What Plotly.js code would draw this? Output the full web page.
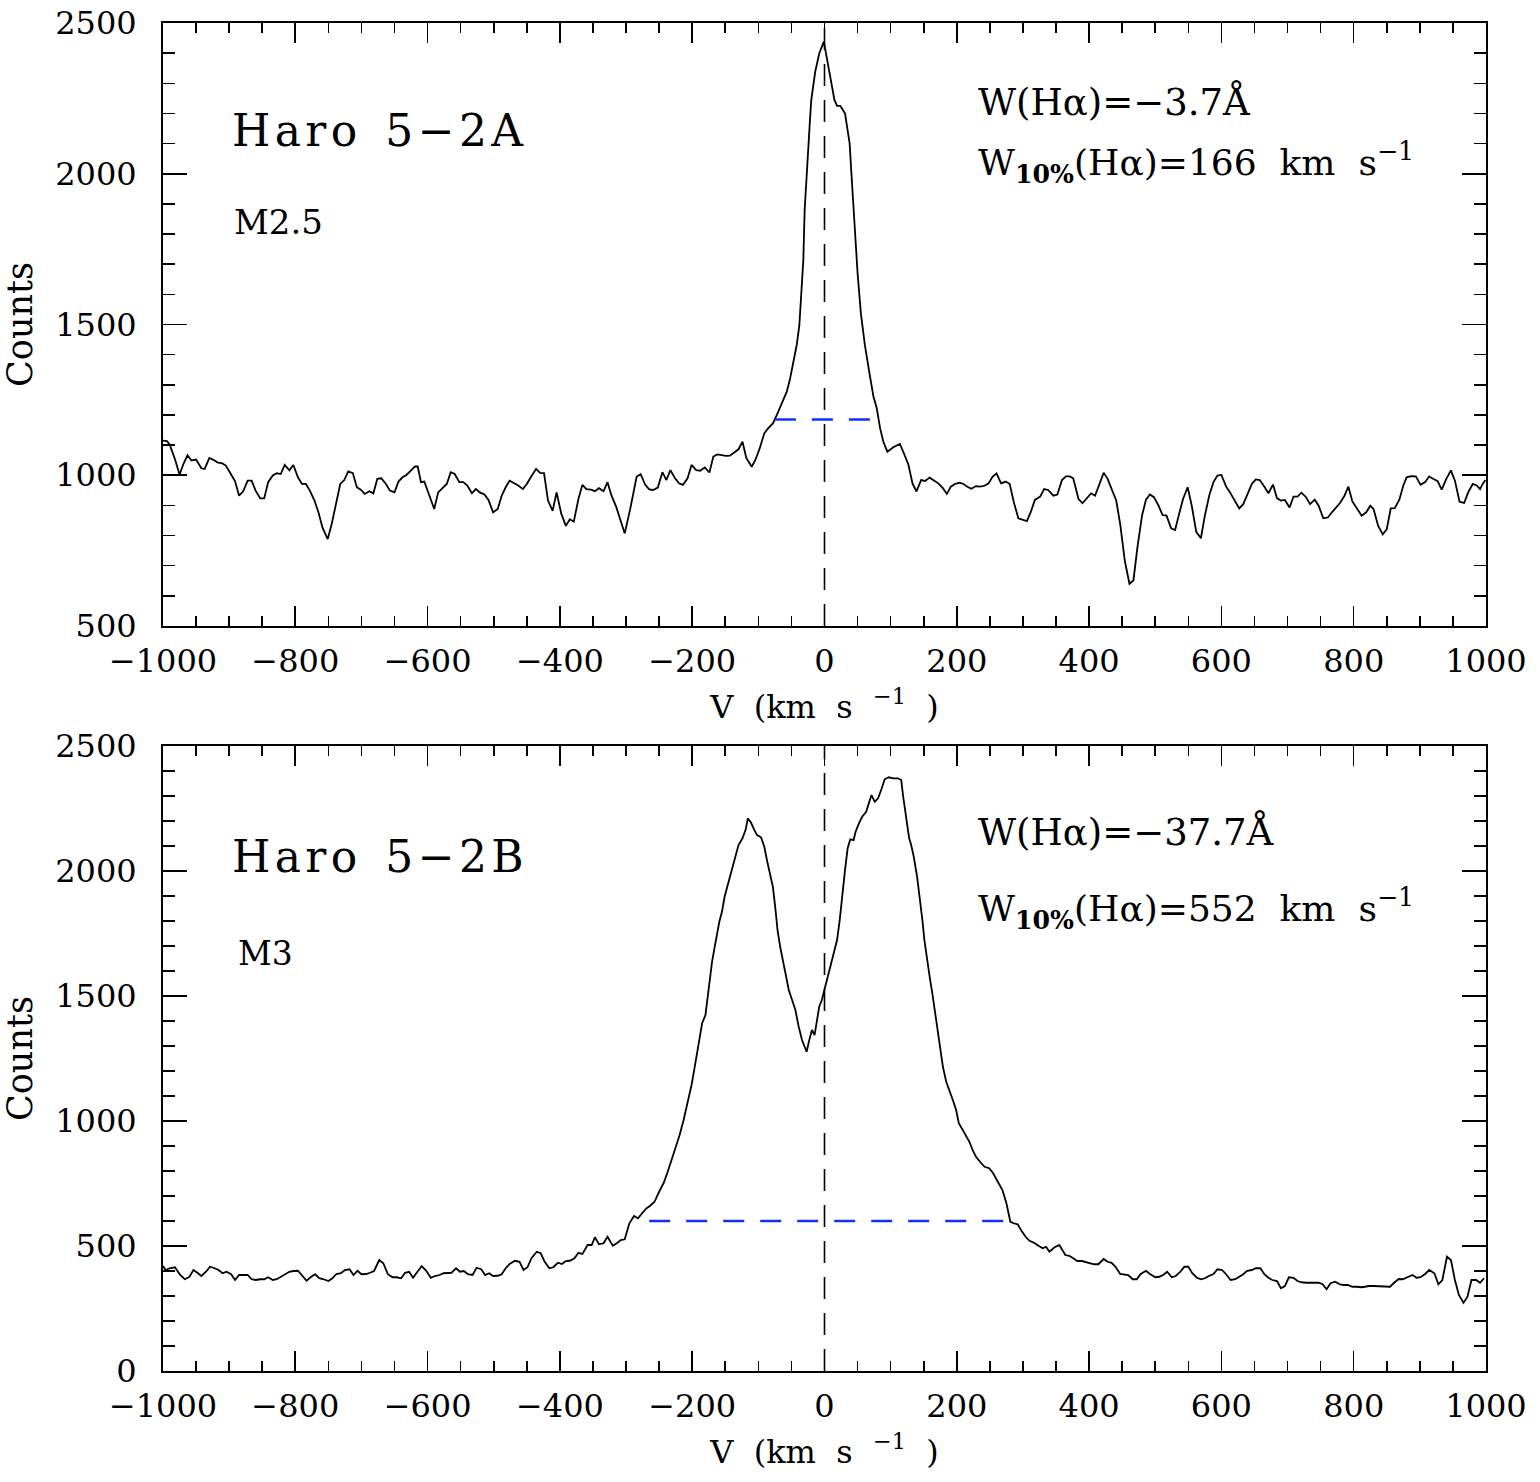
<!DOCTYPE html>
<html>
<head>
<meta charset="utf-8">
<script src="https://cdn.plot.ly/plotly-3.0.1.min.js"></script>
<style>html,body{margin:0;padding:0;background:#fff;}#chart{width:1540px;height:1482px;}</style>
</head>
<body>
<div id="chart"></div>
<script>
// ---------------- Top panel: Haro 5-2A ----------------
const topV = [
-1000,-994,-990,-982,-975,-969,-963,-957,-950,-942,
-937,-930,-924,-917,-911,-905,-899,-891,-885,-879,
-872,-866,-860,-853,-847,-841,-834,-828,-822,-816,
-809,-803,-796,-790,-784,-778,-771,-765,-759,-751,
-745,-739,-732,-726,-720,-713,-707,-701,-695,-688,
-682,-676,-670,-663,-657,-650,-644,-638,-632,-625,
-619,-615,-610,-605,-597,-590,-584,-577,-571,-565,
-559,-552,-546,-540,-533,-527,-521,-514,-508,-501,
-494,-488,-482,-476,-469,-463,-456,-450,-444,-436,
-430,-424,-418,-411,-405,-398,-391,-385,-379,-372,
-366,-360,-353,-347,-341,-334,-328,-322,-315,-309,
-302,-294,-284,-278,-271,-265,-259,-252,-245,-239,
-233,-226,-220,-214,-207,-201,-194,-188,-181,-174,
-168,-162,-156,-149,-143,-136,-130,-124,-118,-110,
-104,-98,-91,-85,-78,-72,-67,-62,-57,-52,
-47,-42,-38,-35,-32,-30,-26,-22,-20,-14,
-8,-1,5,11,15,19,24,31,38,41,
45,50,55,61,68,74,79,84,89,95,
104,114,121,127,133,139,146,152,159,167,
172,179,185,191,197,204,210,216,222,229,
235,242,248,254,260,267,274,280,286,293,
300,306,312,318,326,332,338,346,352,359,
365,371,376,384,390,396,403,409,415,422,
428,434,441,447,454,461,467,473,480,486,
492,498,505,511,517,524,530,536,542,549,
555,562,569,575,582,588,594,600,607,613,
620,627,633,640,646,652,658,665,671,678,
684,690,696,703,709,715,721,728,734,741,
747,754,761,767,773,779,786,792,798,805,
812,819,825,830,837,844,850,856,862,869,
875,880,887,894,901,908,914,920,927,933,
940,947,953,960,967,973,980,986,991,995,999
];
const topCounts = [
1115,1113,1102,1054,1002,1038,1066,1049,1052,1023,
1021,1057,1051,1042,1040,1032,1010,980,932,946,
982,982,949,923,923,977,999,1007,1004,1034,
1016,1034,993,971,971,949,916,877,827,788,
838,904,971,984,1013,1007,960,952,938,947,
940,988,990,971,949,943,979,993,1001,1016,
1029,1029,977,979,932,888,943,960,971,1010,
1004,977,977,966,940,954,943,936,918,877,
888,932,960,982,973,966,954,971,993,1021,
1008,1007,916,882,943,873,832,854,846,921,
968,954,952,947,957,947,977,932,896,854,
807,885,995,1004,968,953,951,959,1010,984,
1017,990,973,968,990,1034,1017,1015,1026,1009,
1062,1069,1067,1064,1065,1078,1086,1111,1056,1028,
1053,1089,1139,1156,1172,1200,1227,1255,1277,1321,
1377,1432,1498,1592,1714,1880,2046,2178,2245,2339,
2399,2438,2366,2289,2245,2225,2225,2200,2101,1990,
1847,1670,1537,1432,1338,1261,1222,1156,1111,1078,
1093,1104,1067,1034,973,946,984,981,992,979,
973,957,938,962,971,975,971,962,955,964,
962,965,973,995,1006,973,979,971,912,857,
852,848,879,918,929,954,951,932,936,984,
996,996,990,921,907,921,940,932,966,1008,
988,954,916,838,716,640,651,760,866,919,
936,927,899,868,866,824,818,871,921,960,
901,812,791,866,936,977,999,1001,963,943,
916,890,904,943,971,986,984,962,940,969,
924,916,918,893,929,929,942,927,904,919,
899,857,860,877,893,907,932,962,913,888,
866,877,899,888,832,804,821,890,891,919,
966,993,997,996,968,977,996,988,980,952,
988,1016,982,912,908,943,971,966,954,971,984
];
const topW10V = [-75, 73];       // 10% width marker (km/s)
const topW10Level = [1185, 1185]; // counts

// ---------------- Bottom panel: Haro 5-2B ----------------
const botV = [
-1000,-996,-990,-982,-974,-967,-960,-954,-948,-942,
-935,-929,-922,-916,-910,-904,-897,-891,-885,-879,
-872,-866,-860,-853,-847,-841,-834,-828,-822,-816,
-809,-803,-796,-789,-783,-776,-770,-764,-758,-750,
-744,-738,-731,-725,-718,-712,-706,-700,-693,-687,
-681,-673,-667,-660,-653,-647,-640,-634,-628,-622,
-615,-609,-603,-595,-589,-582,-576,-570,-564,-557,
-551,-545,-539,-532,-526,-519,-513,-507,-501,-494,
-488,-482,-476,-468,-461,-455,-449,-443,-435,-429,
-423,-416,-410,-403,-397,-391,-385,-378,-372,-366,
-358,-352,-347,-341,-334,-328,-320,-314,-308,-302,
-295,-288,-282,-275,-269,-264,-257,-250,-243,-237,
-231,-225,-219,-213,-207,-201,-197,-193,-189,-185,
-180,-176,-174,-170,-166,-162,-159,-155,-151,-147,
-142,-136,-130,-124,-119,-116,-111,-106,-102,-96,
-91,-86,-78,-74,-71,-67,-63,-58,-54,-49,
-44,-39,-34,-30,-27,-23,-19,-15,-12,-8,
-4,0,4,8,12,15,19,23,27,31,
35,39,44,47,52,57,63,67,71,76,
81,86,91,97,104,111,116,119,124,128,
131,135,140,144,148,151,155,159,163,166,
170,174,179,184,188,194,199,203,209,213,
219,224,229,237,242,249,255,262,269,275,
281,286,292,297,304,310,318,324,330,335,
340,348,355,364,370,376,382,389,395,402,
408,414,422,428,434,440,447,453,459,466,
472,478,486,492,500,506,512,518,525,531,
538,544,550,556,563,569,575,581,588,594,
601,607,614,621,627,633,639,646,652,659,
665,671,677,684,690,696,702,709,715,721,
728,734,740,747,753,759,765,772,778,784,
791,798,805,811,817,823,830,836,842,848,
855,861,868,874,880,889,895,901,908,914,
922,928,934,941,947,953,959,966,972,978,
985,991,997
];
const botCounts = [
420,404,411,415,384,367,377,404,393,380,
397,417,411,404,391,397,387,364,384,384,
384,367,364,367,367,375,364,367,377,388,
397,400,401,380,361,377,387,371,368,360,
371,388,391,404,407,384,401,387,388,393,
400,444,431,387,375,375,371,393,397,373,
397,420,404,373,380,384,391,391,393,411,
397,400,387,384,413,407,384,391,380,381,
387,411,428,441,437,404,415,451,477,471,
437,411,415,433,428,440,441,451,473,468,
504,504,535,507,511,537,501,511,524,527,
591,620,611,633,651,660,677,717,753,797,
844,891,944,1004,1071,1144,1204,1271,1337,1391,
1424,1511,1571,1637,1697,1764,1797,1837,1897,1937,
1984,2044,2104,2131,2167,2211,2193,2164,2144,2135,
2097,2031,1937,1844,1764,1697,1644,1571,1524,1484,
1444,1377,1324,1297,1277,1324,1364,1344,1391,1457,
1484,1524,1564,1604,1644,1684,1724,1804,1911,2004,
2091,2127,2124,2157,2191,2217,2237,2271,2304,2277,
2291,2327,2367,2375,2371,2371,2364,2297,2211,2131,
2104,2057,1977,1897,1804,1724,1644,1577,1511,1457,
1377,1297,1217,1157,1131,1084,1044,991,964,944,
917,884,857,831,817,811,791,757,724,671,
597,591,587,564,537,521,511,500,491,497,
477,495,504,464,461,451,440,440,437,431,
427,427,448,437,433,417,388,387,384,367,
367,388,401,388,375,377,384,397,375,380,
397,417,417,391,373,367,371,380,388,407,
404,387,364,367,377,387,401,404,411,411,
387,373,364,360,331,340,375,373,360,355,
353,353,351,353,347,327,351,357,348,344,
344,337,337,335,337,340,340,340,337,337,
337,353,368,367,373,384,373,375,388,404,
391,347,364,457,444,364,304,273,297,364,
364,353,371
];
const botW10V = [-265, 271];
const botW10Level = [600, 600];

// reference line at rest velocity
const restV = [0, 0];
const topRange = [500, 2500];
const botRange = [0, 2500];
const vRange = [-1000, 1000];

// texts (hair spaces U+200A mimic the wide letter spacing of the original)
const hs = '\u200a';
const spaced = s => s.split('').join(hs);
const topName = spaced('Haro') + '\u00a0 ' + spaced('5\u22122A');
const topSpT = 'M2.5';
const topEW = 'W(H\u03b1)=\u22123.7\u00c5';
const topW10 = 'W<sub><b>10%</b></sub>(H\u03b1)=166\u00a0 km\u00a0 s<sup>\u22121</sup>';
const botName = spaced('Haro') + '\u00a0 ' + spaced('5\u22122B');
const botSpT = 'M3';
const botEW = 'W(H\u03b1)=\u221237.7\u00c5';
const botW10 = 'W<sub><b>10%</b></sub>(H\u03b1)=552\u00a0 km\u00a0 s<sup>\u22121</sup>';
const xTitle = 'V\u00a0 (km\u00a0 s\u00a0 <sup>\u22121</sup>\u00a0 )';
const yTitle = 'Counts';

const FONT = 'DejaVu Serif';
const dashBlack = '22px,14px';
const dashBlue = '21px,16px';

const traces = [
  {x: topV, y: topCounts, xaxis:'x', yaxis:'y', mode:'lines', line:{color:'#000', width:1.8}, hoverinfo:'skip'},
  {x: restV, y: topRange, xaxis:'x', yaxis:'y', mode:'lines', line:{color:'#000', width:1.6, dash:dashBlack}},
  {x: topW10V, y: topW10Level, xaxis:'x', yaxis:'y', mode:'lines', line:{color:'#1030ff', width:2.6, dash:dashBlue}},
  {x: botV, y: botCounts, xaxis:'x2', yaxis:'y2', mode:'lines', line:{color:'#000', width:1.8}, hoverinfo:'skip'},
  {x: restV, y: botRange, xaxis:'x2', yaxis:'y2', mode:'lines', line:{color:'#000', width:1.6, dash:dashBlack}},
  {x: botW10V, y: botW10Level, xaxis:'x2', yaxis:'y2', mode:'lines', line:{color:'#1030ff', width:2.6, dash:dashBlue}}
];

function xAxis(anchor){
  return {anchor:anchor, range:vRange, tick0:0, dtick:200, ticks:'inside', ticklen:20, tickwidth:1.6, tickcolor:'#000',
    mirror:'allticks', showline:true, linewidth:2, linecolor:'#000', showgrid:false, zeroline:false,
    ticklabelstandoff:6, tickfont:{family:FONT, size:32, color:'#000'},
    minor:{dtick:50, ticks:'inside', ticklen:10, tickwidth:1.6, tickcolor:'#000', showgrid:false},
    title:{text:xTitle, font:{family:FONT, size:32, color:'#000'}, standoff:16}};
}
function yAxis(anchor, range, domain){
  return {anchor:anchor, domain:domain, range:range, tick0:0, dtick:500, ticks:'inside', ticklen:24, tickwidth:1.6, tickcolor:'#000',
    mirror:'allticks', showline:true, linewidth:2, linecolor:'#000', showgrid:false, zeroline:false,
    ticklabelstandoff:18, tickfont:{family:FONT, size:32, color:'#000'},
    minor:{dtick:100, ticks:'inside', ticklen:12, tickwidth:1.6, tickcolor:'#000', showgrid:false},
    title:{text:yTitle, font:{family:FONT, size:35, color:'#000'}, standoff:14}};
}

function ann(xref, yref, x, y, text, size){
  return {xref:xref, yref:yref, x:x, y:y, text:text, showarrow:false, xanchor:'left', yanchor:'middle',
    font:{family:FONT, size:size, color:'#000'}};
}

const layout = {
  width:1540, height:1482,
  margin:{l:163, r:54, t:23, b:111},
  paper_bgcolor:'#fff', plot_bgcolor:'#fff', showlegend:false,
  xaxis: xAxis('y'),
  yaxis: yAxis('x', topRange, [0.5527, 1]),
  xaxis2: xAxis('y2'),
  yaxis2: yAxis('x2', botRange, [0, 0.4636]),
  annotations:[
    ann('x','y', -899, 2145, topName, 44),
    ann('x','y', -896, 1840, topSpT, 34),
    ann('x','y', 229, 2238, topEW, 37),
    ann('x','y', 229, 2035, topW10, 36),
    ann('x2','y2', -899, 2060, botName, 44),
    ann('x2','y2', -889, 1672, botSpT, 33),
    ann('x2','y2', 229, 2156, botEW, 37),
    ann('x2','y2', 229, 1848, botW10, 36)
  ]
};

Plotly.newPlot('chart', traces, layout, {staticPlot:true, displayModeBar:false});
</script>
</body>
</html>
